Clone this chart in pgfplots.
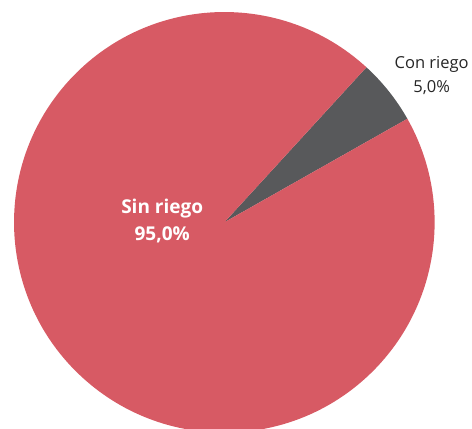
\documentclass[border=0pt]{standalone}
\usepackage{fontspec}
\setmainfont{Open Sans}
\usepackage{pgfplots}
\pgfplotsset{compat=1.18}
\definecolor{sinc}{HTML}{D75A64}
\definecolor{conc}{HTML}{58595B}
\begin{document}
\begin{tikzpicture}
\begin{axis}[
  x=1pt, y=1pt,
  xmin=0, xmax=472, ymin=0, ymax=428,
  hide axis, clip=true,
  scale only axis,
]
% data: Con riego 5.0, Sin riego 95.0 ; start angle 29.5 deg
\pgfmathsetmacro{\startA}{29.5}
\pgfmathsetmacro{\conEnd}{\startA+5.0*3.6}
\pgfmathsetmacro{\sinEnd}{\conEnd+95.0*3.6}
\fill[conc] (axis cs:224,206) -- ++(\startA:210pt) arc[start angle=\startA, end angle=\conEnd, radius=210pt] -- cycle;
\fill[sinc] (axis cs:224,206) -- ++(\conEnd:210pt) arc[start angle=\conEnd, end angle=\sinEnd, radius=210pt] -- cycle;
\node[align=center, font=\fontsize{16.5}{24}\selectfont, text=black!85] at (axis cs:431,353) {Con riego\\5,0\%};
\node[align=center, font=\fontsize{19}{27}\selectfont\bfseries, text=white] at (axis cs:162,207) {Sin riego\\95,0\%};
\end{axis}
\end{tikzpicture}
\end{document}
